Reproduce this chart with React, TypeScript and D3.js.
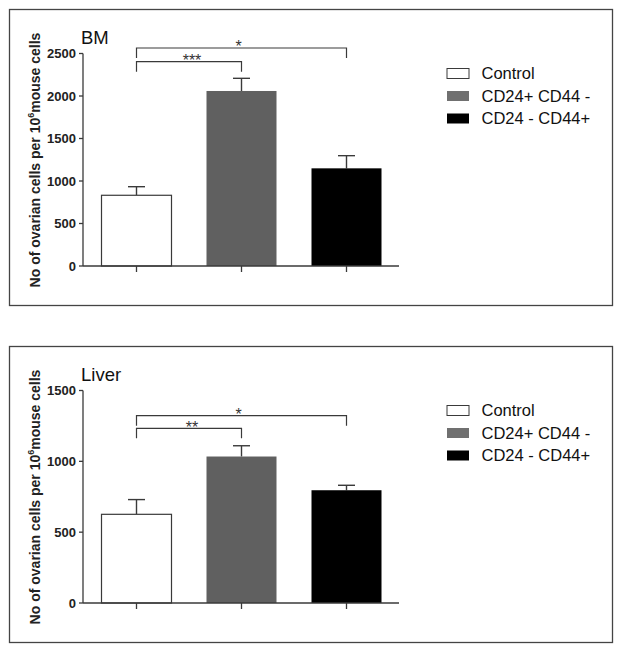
import React from "react";
import * as d3 from "d3";

const groups = ["Control", "CD24+ CD44 -", "CD24 - CD44+"];
const fills = ["#ffffff", "#606060", "#000000"];
const legendFills = ["#ffffff", "#707070", "#000000"];

const bmMeans = [832, 2059, 1149];
const bmSem = [101, 149, 149];
const bmTicks = [0, 500, 1000, 1500, 2000, 2500];
const bmSig = [
  { from: 0, to: 1, label: "***", value: 2404 },
  { from: 0, to: 2, label: "*", value: 2565 },
];

const liverMeans = [626, 1034, 796];
const liverSem = [104, 76, 35];
const liverTicks = [0, 500, 1000, 1500];
const liverSig = [
  { from: 0, to: 1, label: "**", value: 1233 },
  { from: 0, to: 2, label: "*", value: 1322 },
];

const FONT = "'Liberation Sans', Arial, Helvetica, sans-serif";
const STROKE = "#3a3a3a";

type Sig = { from: number; to: number; label: string; value: number };

function Panel({
  top,
  title,
  means,
  sem,
  ticks,
  sig,
}: {
  top: number;
  title: string;
  means: number[];
  sem: number[];
  ticks: number[];
  sig: Sig[];
}) {
  const axisX = 83;
  const y0 = top + 257;
  const y1 = top + 44.5;
  const y = d3.scaleLinear().domain([0, ticks[ticks.length - 1]]).range([y0, y1]);
  const x = d3
    .scaleBand<string>()
    .domain(groups)
    .range([84, 399])
    .paddingInner(1 / 3)
    .paddingOuter(1 / 6);
  const bw = x.bandwidth();
  const cx = (i: number) => (x(groups[i]) as number) + bw / 2;
  const labelCy = top + 151;

  return (
    <g>
      <rect x={9.5} y={top + 0.5} width={603} height={296} fill="none" stroke="#444" strokeWidth={1.3} />
      <text x={81} y={top + 35} fontFamily={FONT} fontSize={18.5} fill="#111">
        {title}
      </text>
      <text
        transform={`translate(39.5,${labelCy}) rotate(-90)`}
        textAnchor="middle"
        fontFamily={FONT}
        fontSize={14}
        fontWeight="bold"
        fill="#222"
      >
        No of ovarian cells per 10
        <tspan fontSize={9} dy={-6}>6</tspan>
        <tspan dy={6}>mouse cells</tspan>
      </text>
      {/* y axis */}
      <line x1={axisX} x2={axisX} y1={y(ticks[ticks.length - 1])} y2={y0} stroke={STROKE} strokeWidth={1.3} />
      {ticks.map((t) => (
        <g key={t}>
          <line x1={axisX - 4} x2={axisX} y1={y(t)} y2={y(t)} stroke={STROKE} strokeWidth={1.3} />
          <text
            x={76}
            y={y(t)}
            dy="0.36em"
            textAnchor="end"
            fontFamily={FONT}
            fontSize={13}
            fontWeight="bold"
            fill="#222"
          >
            {t}
          </text>
        </g>
      ))}
      {/* bars */}
      {means.map((m, i) => (
        <g key={i}>
          <line x1={cx(i)} x2={cx(i)} y1={y(m)} y2={y(m + sem[i])} stroke={STROKE} strokeWidth={1.4} />
          <line x1={cx(i) - 8.5} x2={cx(i) + 8.5} y1={y(m + sem[i])} y2={y(m + sem[i])} stroke={STROKE} strokeWidth={1.4} />
          <rect
            x={x(groups[i])}
            y={y(m)}
            width={bw}
            height={y0 - y(m)}
            fill={fills[i]}
            stroke={i === 0 ? STROKE : "none"}
            strokeWidth={1.2}
          />
          <line x1={cx(i)} x2={cx(i)} y1={y0} y2={y0 + 6} stroke={STROKE} strokeWidth={1.3} />
        </g>
      ))}
      {/* x axis */}
      <line x1={axisX} x2={399} y1={y0} y2={y0} stroke={STROKE} strokeWidth={1.3} />
      {/* significance */}
      {sig.map((s, k) => {
        const yy = y(s.value);
        const xa = cx(s.from);
        const xb = cx(s.to);
        return (
          <g key={k}>
            <path
              d={`M${xa},${yy + 10}V${yy}H${xb}V${yy + 10}`}
              fill="none"
              stroke={STROKE}
              strokeWidth={1.2}
            />
            <text
              x={(xa + xb) / 2 + (s.to === 2 ? -3 : 3)}
              y={yy + 4.5}
              textAnchor="middle"
              fontFamily={FONT}
              fontSize={16}
              fill="#333"
            >
              {s.label}
            </text>
          </g>
        );
      })}
      {/* legend */}
      {groups.map((g, i) => {
        const ly = top + 64.5 + i * 22.5;
        return (
          <g key={g}>
            <rect
              x={447}
              y={ly - 5}
              width={22}
              height={10}
              fill={legendFills[i]}
              stroke={i === 0 ? STROKE : "none"}
              strokeWidth={1}
            />
            <text x={481.5} y={ly} dy="0.36em" fontFamily={FONT} fontSize={16.5} fill="#111">
              {g}
            </text>
          </g>
        );
      })}
    </g>
  );
}

export default function App() {
  return (
    <div style={{ position: "absolute", left: 0, top: 0 }}>
      <svg width={622} height={652} style={{ display: "block", background: "#fff" }}>
        <rect width={622} height={652} fill="#fff" />
        <Panel top={9} title="BM" means={bmMeans} sem={bmSem} ticks={bmTicks} sig={bmSig} />
        <Panel top={346} title="Liver" means={liverMeans} sem={liverSem} ticks={liverTicks} sig={liverSig} />
      </svg>
    </div>
  );
}
